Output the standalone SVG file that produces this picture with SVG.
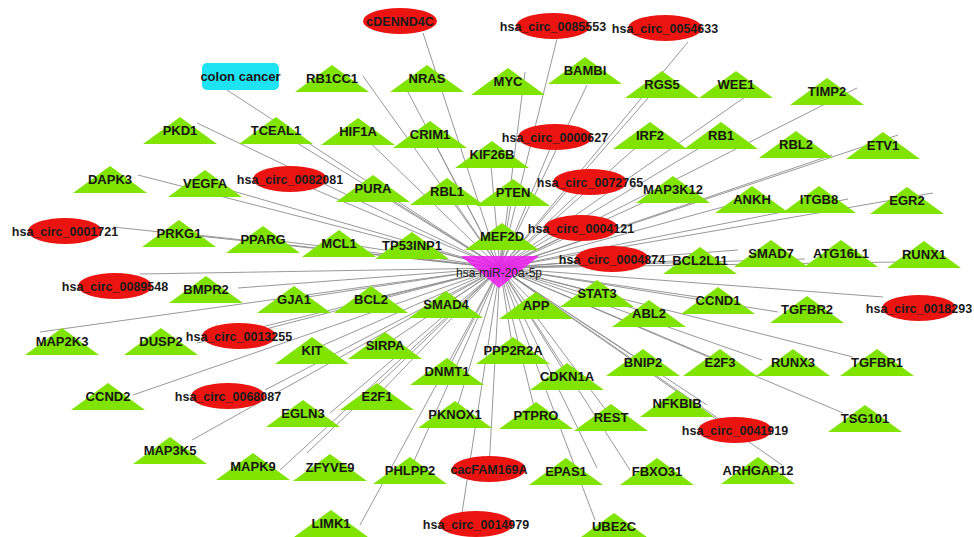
<svg xmlns="http://www.w3.org/2000/svg" width="974" height="537" viewBox="0 0 974 537">
<style>
.e line{stroke:#8c8c8c;stroke-width:0.9}
text{font-family:"Liberation Sans",Arial,sans-serif;text-anchor:middle}
.gl{font-size:13px;font-weight:bold;fill:#151515}
.cl{font-size:12.5px;font-weight:bold;fill:#1a1a1a}
.hl{font-size:12px;fill:#222}
</style>
<defs>
<polygon id="tri" fill="#80e400" points="0,-13 37,14 -37,14"/>
<ellipse id="ell" fill="#ec1410" rx="37" ry="13"/>
</defs>
<rect width="974" height="537" fill="#fff"/>
<g id="edges" class="e">
<line x1="500" y1="268" x2="227" y2="90"/>
<line x1="500" y1="268" x2="423" y2="33"/>
<line x1="500" y1="268" x2="363" y2="76"/>
<line x1="500" y1="268" x2="408" y2="92"/>
<line x1="500" y1="268" x2="557" y2="39"/>
<line x1="500" y1="268" x2="688" y2="42"/>
<line x1="500" y1="268" x2="525" y2="72"/>
<line x1="500" y1="268" x2="587" y2="85"/>
<line x1="500" y1="268" x2="648" y2="98"/>
<line x1="500" y1="268" x2="745" y2="97"/>
<line x1="500" y1="268" x2="857" y2="88"/>
<line x1="500" y1="268" x2="832" y2="155"/>
<line x1="500" y1="268" x2="898" y2="135"/>
<line x1="500" y1="268" x2="933" y2="193"/>
<line x1="500" y1="268" x2="848" y2="199"/>
<line x1="500" y1="268" x2="197" y2="123"/>
<line x1="500" y1="268" x2="138" y2="175"/>
<line x1="500" y1="268" x2="113" y2="227"/>
<line x1="500" y1="268" x2="897" y2="262"/>
<line x1="500" y1="268" x2="738" y2="250"/>
<line x1="500" y1="268" x2="883" y2="297"/>
<line x1="500" y1="268" x2="778" y2="312"/>
<line x1="500" y1="268" x2="853" y2="357"/>
<line x1="500" y1="268" x2="843" y2="413"/>
<line x1="500" y1="268" x2="782" y2="465"/>
<line x1="500" y1="268" x2="595" y2="520"/>
<line x1="500" y1="268" x2="192" y2="440"/>
<line x1="500" y1="268" x2="133" y2="395"/>
<line x1="500" y1="268" x2="40" y2="332"/>
<line x1="500" y1="268" x2="197" y2="343"/>
<line x1="500" y1="268" x2="360" y2="525"/>
<line x1="500" y1="268" x2="462" y2="513"/>
<line x1="500" y1="268" x2="280" y2="470"/>
<line x1="500" y1="268" x2="307" y2="453"/>
<line x1="500" y1="268" x2="330" y2="413"/>
<line x1="500" y1="268" x2="140" y2="274"/>
<line x1="500" y1="268" x2="238" y2="288"/>
<line x1="500" y1="268" x2="276" y2="130"/>
<line x1="500" y1="268" x2="358" y2="131"/>
<line x1="500" y1="268" x2="430" y2="134"/>
<line x1="500" y1="268" x2="490" y2="154"/>
<line x1="500" y1="268" x2="650" y2="135"/>
<line x1="500" y1="268" x2="721" y2="135"/>
<line x1="500" y1="268" x2="205" y2="183"/>
<line x1="500" y1="268" x2="373" y2="188"/>
<line x1="500" y1="268" x2="447" y2="191"/>
<line x1="500" y1="268" x2="513" y2="192"/>
<line x1="500" y1="268" x2="673" y2="189"/>
<line x1="500" y1="268" x2="752" y2="199"/>
<line x1="500" y1="268" x2="179" y2="233"/>
<line x1="500" y1="268" x2="263" y2="239"/>
<line x1="500" y1="268" x2="339" y2="243"/>
<line x1="500" y1="268" x2="412" y2="245"/>
<line x1="500" y1="268" x2="502" y2="236"/>
<line x1="500" y1="268" x2="700" y2="260"/>
<line x1="500" y1="268" x2="805" y2="259"/>
<line x1="500" y1="268" x2="294" y2="299"/>
<line x1="500" y1="268" x2="371" y2="299"/>
<line x1="500" y1="268" x2="446" y2="304"/>
<line x1="500" y1="268" x2="536" y2="305"/>
<line x1="500" y1="268" x2="597" y2="293"/>
<line x1="500" y1="268" x2="649" y2="313"/>
<line x1="500" y1="268" x2="718" y2="300"/>
<line x1="500" y1="268" x2="312" y2="350"/>
<line x1="500" y1="268" x2="385" y2="345"/>
<line x1="500" y1="268" x2="513" y2="350"/>
<line x1="500" y1="268" x2="567" y2="376"/>
<line x1="500" y1="268" x2="643" y2="362"/>
<line x1="500" y1="268" x2="720" y2="362"/>
<line x1="500" y1="268" x2="762" y2="360"/>
<line x1="500" y1="268" x2="447" y2="371"/>
<line x1="500" y1="268" x2="377" y2="396"/>
<line x1="500" y1="268" x2="455" y2="414"/>
<line x1="500" y1="268" x2="536" y2="415"/>
<line x1="500" y1="268" x2="611" y2="417"/>
<line x1="500" y1="268" x2="707" y2="405"/>
<line x1="500" y1="268" x2="410" y2="470"/>
<line x1="500" y1="268" x2="597" y2="468"/>
<line x1="500" y1="268" x2="630" y2="470"/>
<line x1="500" y1="268" x2="555" y2="137"/>
<line x1="500" y1="268" x2="290" y2="179"/>
<line x1="500" y1="268" x2="590" y2="182"/>
<line x1="500" y1="268" x2="581" y2="228"/>
<line x1="500" y1="268" x2="612" y2="259"/>
<line x1="500" y1="268" x2="239" y2="336"/>
<line x1="500" y1="268" x2="265" y2="390"/>
<line x1="500" y1="268" x2="735" y2="430"/>
<line x1="500" y1="268" x2="489" y2="469"/>
</g>
<g id="n-colon-cancer"><rect x="202" y="63" width="77" height="27" rx="5" fill="#1ee3f2"/><text class="gl" x="240.5" y="81">colon cancer</text></g>
<g id="n-PKD1" transform="translate(180,130)"><use href="#tri"/><text class="gl" y="5">PKD1</text></g>
<g id="n-TCEAL1" transform="translate(276,130)"><use href="#tri"/><text class="gl" y="5">TCEAL1</text></g>
<g id="n-HIF1A" transform="translate(358,131)"><use href="#tri"/><text class="gl" y="5">HIF1A</text></g>
<g id="n-CRIM1" transform="translate(430,134)"><use href="#tri"/><text class="gl" y="5">CRIM1</text></g>
<g id="n-KIF26B" transform="translate(492,154)"><use href="#tri"/><text class="gl" y="5">KIF26B</text></g>
<g id="n-RB1CC1" transform="translate(332,78)"><use href="#tri"/><text class="gl" y="5">RB1CC1</text></g>
<g id="n-NRAS" transform="translate(427,78)"><use href="#tri"/><text class="gl" y="5">NRAS</text></g>
<g id="n-MYC" transform="translate(508,81)"><use href="#tri"/><text class="gl" y="5">MYC</text></g>
<g id="n-BAMBI" transform="translate(585,70)"><use href="#tri"/><text class="gl" y="5">BAMBI</text></g>
<g id="n-RGS5" transform="translate(662,84)"><use href="#tri"/><text class="gl" y="5">RGS5</text></g>
<g id="n-WEE1" transform="translate(736,84)"><use href="#tri"/><text class="gl" y="5">WEE1</text></g>
<g id="n-TIMP2" transform="translate(827,91)"><use href="#tri"/><text class="gl" y="5">TIMP2</text></g>
<g id="n-IRF2" transform="translate(650,135)"><use href="#tri"/><text class="gl" y="5">IRF2</text></g>
<g id="n-RB1" transform="translate(721,135)"><use href="#tri"/><text class="gl" y="5">RB1</text></g>
<g id="n-RBL2" transform="translate(796,144)"><use href="#tri"/><text class="gl" y="5">RBL2</text></g>
<g id="n-ETV1" transform="translate(883,145)"><use href="#tri"/><text class="gl" y="5">ETV1</text></g>
<g id="n-DAPK3" transform="translate(110,179)"><use href="#tri"/><text class="gl" y="5">DAPK3</text></g>
<g id="n-VEGFA" transform="translate(205,183)"><use href="#tri"/><text class="gl" y="5">VEGFA</text></g>
<g id="n-PURA" transform="translate(373,188)"><use href="#tri"/><text class="gl" y="5">PURA</text></g>
<g id="n-RBL1" transform="translate(447,191)"><use href="#tri"/><text class="gl" y="5">RBL1</text></g>
<g id="n-PTEN" transform="translate(513,192)"><use href="#tri"/><text class="gl" y="5">PTEN</text></g>
<g id="n-MAP3K12" transform="translate(673,189)"><use href="#tri"/><text class="gl" y="5">MAP3K12</text></g>
<g id="n-ANKH" transform="translate(752,199)"><use href="#tri"/><text class="gl" y="5">ANKH</text></g>
<g id="n-ITGB8" transform="translate(819,199)"><use href="#tri"/><text class="gl" y="5">ITGB8</text></g>
<g id="n-EGR2" transform="translate(907,200)"><use href="#tri"/><text class="gl" y="5">EGR2</text></g>
<g id="n-PRKG1" transform="translate(179,233)"><use href="#tri"/><text class="gl" y="5">PRKG1</text></g>
<g id="n-PPARG" transform="translate(263,239)"><use href="#tri"/><text class="gl" y="5">PPARG</text></g>
<g id="n-MCL1" transform="translate(339,243)"><use href="#tri"/><text class="gl" y="5">MCL1</text></g>
<g id="n-TP53INP1" transform="translate(412,245)"><use href="#tri"/><text class="gl" y="5">TP53INP1</text></g>
<g id="n-MEF2D" transform="translate(502,236)"><use href="#tri"/><text class="gl" y="5">MEF2D</text></g>
<g id="n-BCL2L11" transform="translate(700,260)"><use href="#tri"/><text class="gl" y="5">BCL2L11</text></g>
<g id="n-SMAD7" transform="translate(771,253)"><use href="#tri"/><text class="gl" y="5">SMAD7</text></g>
<g id="n-ATG16L1" transform="translate(841,253)"><use href="#tri"/><text class="gl" y="5">ATG16L1</text></g>
<g id="n-RUNX1" transform="translate(924,254)"><use href="#tri"/><text class="gl" y="5">RUNX1</text></g>
<g id="n-BMPR2" transform="translate(206,289)"><use href="#tri"/><text class="gl" y="5">BMPR2</text></g>
<g id="n-GJA1" transform="translate(294,299)"><use href="#tri"/><text class="gl" y="5">GJA1</text></g>
<g id="n-BCL2" transform="translate(371,299)"><use href="#tri"/><text class="gl" y="5">BCL2</text></g>
<g id="n-SMAD4" transform="translate(446,304)"><use href="#tri"/><text class="gl" y="5">SMAD4</text></g>
<g id="n-APP" transform="translate(536,305)"><use href="#tri"/><text class="gl" y="5">APP</text></g>
<g id="n-STAT3" transform="translate(597,293)"><use href="#tri"/><text class="gl" y="5">STAT3</text></g>
<g id="n-ABL2" transform="translate(649,313)"><use href="#tri"/><text class="gl" y="5">ABL2</text></g>
<g id="n-CCND1" transform="translate(718,300)"><use href="#tri"/><text class="gl" y="5">CCND1</text></g>
<g id="n-TGFBR2" transform="translate(807,309)"><use href="#tri"/><text class="gl" y="5">TGFBR2</text></g>
<g id="n-MAP2K3" transform="translate(62,341)"><use href="#tri"/><text class="gl" y="5">MAP2K3</text></g>
<g id="n-DUSP2" transform="translate(161,341)"><use href="#tri"/><text class="gl" y="5">DUSP2</text></g>
<g id="n-KIT" transform="translate(312,350)"><use href="#tri"/><text class="gl" y="5">KIT</text></g>
<g id="n-SIRPA" transform="translate(385,345)"><use href="#tri"/><text class="gl" y="5">SIRPA</text></g>
<g id="n-PPP2R2A" transform="translate(513,350)"><use href="#tri"/><text class="gl" y="5">PPP2R2A</text></g>
<g id="n-CDKN1A" transform="translate(567,376)"><use href="#tri"/><text class="gl" y="5">CDKN1A</text></g>
<g id="n-BNIP2" transform="translate(643,362)"><use href="#tri"/><text class="gl" y="5">BNIP2</text></g>
<g id="n-E2F3" transform="translate(720,362)"><use href="#tri"/><text class="gl" y="5">E2F3</text></g>
<g id="n-RUNX3" transform="translate(793,362)"><use href="#tri"/><text class="gl" y="5">RUNX3</text></g>
<g id="n-TGFBR1" transform="translate(877,362)"><use href="#tri"/><text class="gl" y="5">TGFBR1</text></g>
<g id="n-DNMT1" transform="translate(447,371)"><use href="#tri"/><text class="gl" y="5">DNMT1</text></g>
<g id="n-CCND2" transform="translate(108,396)"><use href="#tri"/><text class="gl" y="5">CCND2</text></g>
<g id="n-E2F1" transform="translate(377,396)"><use href="#tri"/><text class="gl" y="5">E2F1</text></g>
<g id="n-EGLN3" transform="translate(303,413)"><use href="#tri"/><text class="gl" y="5">EGLN3</text></g>
<g id="n-PKNOX1" transform="translate(455,414)"><use href="#tri"/><text class="gl" y="5">PKNOX1</text></g>
<g id="n-PTPRO" transform="translate(536,415)"><use href="#tri"/><text class="gl" y="5">PTPRO</text></g>
<g id="n-REST" transform="translate(611,417)"><use href="#tri"/><text class="gl" y="5">REST</text></g>
<g id="n-NFKBIB" transform="translate(677,403)"><use href="#tri"/><text class="gl" y="5">NFKBIB</text></g>
<g id="n-TSG101" transform="translate(865,418)"><use href="#tri"/><text class="gl" y="5">TSG101</text></g>
<g id="n-MAP3K5" transform="translate(170,450)"><use href="#tri"/><text class="gl" y="5">MAP3K5</text></g>
<g id="n-MAPK9" transform="translate(253,466)"><use href="#tri"/><text class="gl" y="5">MAPK9</text></g>
<g id="n-ZFYVE9" transform="translate(330,467)"><use href="#tri"/><text class="gl" y="5">ZFYVE9</text></g>
<g id="n-PHLPP2" transform="translate(410,470)"><use href="#tri"/><text class="gl" y="5">PHLPP2</text></g>
<g id="n-EPAS1" transform="translate(566,471)"><use href="#tri"/><text class="gl" y="5">EPAS1</text></g>
<g id="n-FBXO31" transform="translate(657,471)"><use href="#tri"/><text class="gl" y="5">FBXO31</text></g>
<g id="n-ARHGAP12" transform="translate(758,470)"><use href="#tri"/><text class="gl" y="5">ARHGAP12</text></g>
<g id="n-LIMK1" transform="translate(331,523)"><use href="#tri"/><text class="gl" y="5">LIMK1</text></g>
<g id="n-UBE2C" transform="translate(614,526)"><use href="#tri"/><text class="gl" y="5">UBE2C</text></g>
<g id="n-cDENND4C" transform="translate(400,21)"><use href="#ell"/><text class="cl" y="4.5">cDENND4C</text></g>
<g id="n-hsa_circ_0085553" transform="translate(553,26)"><use href="#ell"/><text class="cl" y="4.5">hsa_circ_0085553</text></g>
<g id="n-hsa_circ_0054633" transform="translate(665,28)"><use href="#ell"/><text class="cl" y="4.5">hsa_circ_0054633</text></g>
<g id="n-hsa_circ_0000627" transform="translate(555,137)"><use href="#ell"/><text class="cl" y="4.5">hsa_circ_0000627</text></g>
<g id="n-hsa_circ_0082081" transform="translate(290,179)"><use href="#ell"/><text class="cl" y="4.5">hsa_circ_0082081</text></g>
<g id="n-hsa_circ_0072765" transform="translate(590,182)"><use href="#ell"/><text class="cl" y="4.5">hsa_circ_0072765</text></g>
<g id="n-hsa_circ_0001721" transform="translate(65,231)"><use href="#ell"/><text class="cl" y="4.5">hsa_circ_0001721</text></g>
<g id="n-hsa_circ_0004121" transform="translate(581,228)"><use href="#ell"/><text class="cl" y="4.5">hsa_circ_0004121</text></g>
<g id="n-hsa_circ_0004874" transform="translate(612,259)"><use href="#ell"/><text class="cl" y="4.5">hsa_circ_0004874</text></g>
<g id="n-hsa_circ_0089548" transform="translate(115,286)"><use href="#ell"/><text class="cl" y="4.5">hsa_circ_0089548</text></g>
<g id="n-hsa_circ_0018293" transform="translate(919,308)"><use href="#ell"/><text class="cl" y="4.5">hsa_circ_0018293</text></g>
<g id="n-hsa_circ_0013255" transform="translate(239,336)"><use href="#ell"/><text class="cl" y="4.5">hsa_circ_0013255</text></g>
<g id="n-hsa_circ_0068087" transform="translate(228,396)"><use href="#ell"/><text class="cl" y="4.5">hsa_circ_0068087</text></g>
<g id="n-hsa_circ_0041919" transform="translate(735,430)"><use href="#ell"/><text class="cl" y="4.5">hsa_circ_0041919</text></g>
<g id="n-cacFAM169A" transform="translate(489,469)"><use href="#ell"/><text class="cl" y="4.5">cacFAM169A</text></g>
<g id="n-hsa_circ_0014979" transform="translate(476,524)"><use href="#ell"/><text class="cl" y="4.5">hsa_circ_0014979</text></g>
<g id="n-hsa-miR-20a-5p"><polygon points="461,256 539,256 499,288" fill="#f01cf0" fill-opacity="0.85"/><text class="hl" x="499" y="277">hsa-miR-20a-5p</text></g>
</svg>
